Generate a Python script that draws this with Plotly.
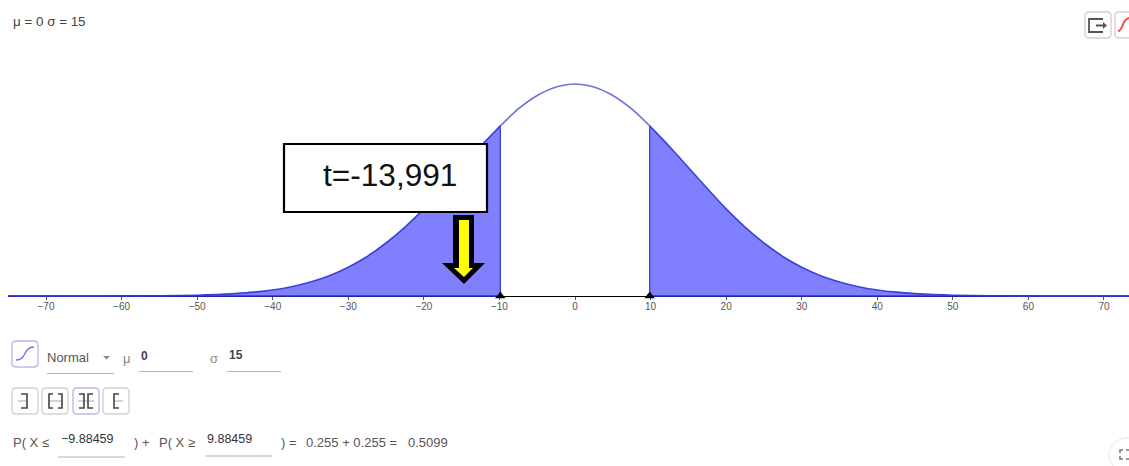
import plotly.graph_objects as go

W, H = 1129, 466

# Data
curve_x = [-75, -65, -60, -55, -50, -47.5, -45, -42.5, -40, -37.5, -35, -32.5, -30, -27.5, -25, -22.5, -20,
           -17.5, -15, -12.5, -9.88459, -7.5, -5, -2.5, 0, 2.5, 5, 7.5, 9.88459, 12.5, 15, 17.5, 20,
           22.5, 25, 27.5, 30, 32.5, 35, 37.5, 40, 42.5, 45, 47.5, 50, 55, 60, 65, 73.3]
curve_y = [0, 0, 0.00001, 0.00003, 0.00010, 0.00018, 0.00030, 0.00048, 0.00076, 0.00117, 0.00175, 0.00254, 0.00360,
           0.00496, 0.00665, 0.00864, 0.01093, 0.01349, 0.01613, 0.01876, 0.02135, 0.02347, 0.02516,
           0.02623, 0.02660, 0.02623, 0.02516, 0.02347, 0.02135, 0.01876, 0.01613, 0.01349, 0.01093,
           0.00864, 0.00665, 0.00496, 0.00360, 0.00254, 0.00175, 0.00117, 0.00076, 0.00048, 0.00030,
           0.00018, 0.00010, 0.00003, 0.00001, 0, 0]
tick_vals = [-70, -60, -50, -40, -30, -20, -10, 0, 10, 20, 30, 40, 50, 60, 70]
lower_cut = -9.88459
upper_cut = 9.88459
annotation_label = "t=-13,991"

FILL = "#8080ff"
EDGE = "#3c40dc"
MID = "#6a74dc"
GREY = "#555555"
BORDER = "#d2d2d2"
PURPLE = "#bdb8ec"

# axes: 7.557 px per unit, zero at px 575, baseline at px 296
pxu = 7.557
x_lo = (8 - 575) / pxu
x_hi = (W - 575) / pxu
k = 0.0266 / 212
y_hi = 296 * k
y_lo = -(H - 296) * k


def px(x):
    return x / W


def py(y):
    return 1 - y / H


left = [i for i, v in enumerate(curve_x) if v <= lower_cut]
mid = [i for i, v in enumerate(curve_x) if lower_cut <= v <= upper_cut]
right = [i for i, v in enumerate(curve_x) if v >= upper_cut]


def pick(seq, idx):
    return [seq[i] for i in idx]


fig = go.Figure()
for idx in (left, right):
    fig.add_trace(go.Scatter(x=pick(curve_x, idx), y=pick(curve_y, idx), mode="lines",
                             line=dict(color=EDGE, width=1.6, shape="spline", smoothing=0.6),
                             fill="tozeroy", fillcolor=FILL, hoverinfo="skip"))
fig.add_trace(go.Scatter(x=pick(curve_x, mid), y=pick(curve_y, mid), mode="lines",
                         line=dict(color=MID, width=1.6, shape="spline", smoothing=0.6), hoverinfo="skip"))
cut_height = curve_y[left[-1]]
for c in (lower_cut, upper_cut):
    fig.add_trace(go.Scatter(x=[c, c], y=[0, cut_height], mode="lines",
                             line=dict(color="#3f44e8", width=1.4), hoverinfo="skip"))
fig.add_trace(go.Scatter(x=[curve_x[0], lower_cut], y=[0, 0], mode="lines",
                         line=dict(color="#2b30e8", width=1.6), hoverinfo="skip"))
fig.add_trace(go.Scatter(x=[upper_cut, curve_x[-1]], y=[0, 0], mode="lines",
                         line=dict(color="#2b30e8", width=1.6), hoverinfo="skip"))
fig.add_trace(go.Scatter(x=[lower_cut, upper_cut], y=[0, 0], mode="markers",
                         marker=dict(symbol="triangle-up", color="black", size=9),
                         hoverinfo="skip", cliponaxis=False))

shapes = []


def path_shape(points, fill=None, line=None, width=1, close=True):
    d = "M " + " L ".join(f"{px(a):.5f},{py(b):.5f}" for a, b in points) + (" Z" if close else "")
    shapes.append(dict(type="path", xref="paper", yref="paper", path=d,
                       fillcolor=fill if fill else "rgba(0,0,0,0)",
                       line=dict(color=line if line else "rgba(0,0,0,0)", width=width if line else 0)))


def seg(x0, y0, x1, y1, color="#aaaaaa", width=1):
    shapes.append(dict(type="line", xref="paper", yref="paper", x0=px(x0), y0=py(y0), x1=px(x1), y1=py(y1),
                       line=dict(color=color, width=width)))


def round_box(x0, y0, x1, y1, color=BORDER, r=4, width=1.4):
    a, b, c, d = px(x0), py(y0), px(x1), py(y1)
    rx, ry = r / W, r / H
    p = (f"M {a+rx:.5f},{b:.5f} L {c-rx:.5f},{b:.5f} Q {c:.5f},{b:.5f} {c:.5f},{b-ry:.5f} "
         f"L {c:.5f},{d+ry:.5f} Q {c:.5f},{d:.5f} {c-rx:.5f},{d:.5f} L {a+rx:.5f},{d:.5f} "
         f"Q {a:.5f},{d:.5f} {a:.5f},{d+ry:.5f} L {a:.5f},{b-ry:.5f} Q {a:.5f},{b:.5f} {a+rx:.5f},{b:.5f} Z")
    shapes.append(dict(type="path", xref="paper", yref="paper", path=p, fillcolor="white",
                       line=dict(color=color, width=width)))


# callout box
shapes.append(dict(type="rect", xref="paper", yref="paper", x0=px(284), x1=px(487), y0=py(212), y1=py(144),
                   fillcolor="white", line=dict(color="black", width=2.2), layer="above"))
# arrow
path_shape([(453, 215), (474, 215), (474, 263), (485, 263), (464, 284), (442, 263), (453, 263)], fill="black")
path_shape([(459, 220), (469, 220), (469, 268), (473, 268), (464, 277), (454, 268), (459, 268)], fill="#ffff00")

# top-right buttons
round_box(1085, 12, 1111, 38)
path_shape([(1103, 19), (1089, 19), (1089, 32), (1103, 32)], line="#555555", width=1.8, close=False)
seg(1096, 25.5, 1105, 25.5, "#555555", 2)
path_shape([(1103, 22), (1107, 25.5), (1103, 29)], fill="#555555")
round_box(1115, 12, 1135, 38)
shapes.append(dict(type="path", xref="paper", yref="paper",
                   path=f"M {px(1118):.5f},{py(31):.5f} C {px(1123):.5f},{py(31):.5f} {px(1122):.5f},{py(19):.5f} {px(1129):.5f},{py(18):.5f}",
                   line=dict(color="#f05050", width=2)))

# distribution icon button
round_box(12, 341, 38, 367, color=PURPLE)
shapes.append(dict(type="path", xref="paper", yref="paper",
                   path=f"M {px(16):.5f},{py(360):.5f} C {px(27):.5f},{py(360):.5f} {px(23):.5f},{py(347):.5f} {px(34):.5f},{py(347):.5f}",
                   line=dict(color="#6f6fe0", width=1.4)))
# dropdown & inputs
path_shape([(103, 356), (110, 356), (106.5, 359.5)], fill="#888888")
seg(47, 373.5, 114, 373.5, "#b5b5b5")
seg(139, 371.5, 193, 371.5, "#b5b5b5")
seg(227, 371.5, 281, 371.5, "#b5b5b5")
seg(58, 457, 125, 457, "#b5b5b5")
seg(205, 456, 272, 456, "#b5b5b5")

# interval buttons
G = "#444444"
for i, (a, b) in enumerate([(12, 38), (42, 68), (73, 99), (103, 129)]):
    round_box(a, 388, b, 414, color=PURPLE if i == 2 else BORDER)
# left-tail button
seg(18, 401, 26, 401, "#aaaaaa")
path_shape([(21, 394), (27, 394), (27, 408), (21, 408)], line=G, width=1.6, close=False)
# both-ends button
seg(48, 401, 63, 401, "#aaaaaa")
path_shape([(53, 394), (49, 394), (49, 408), (53, 408)], line=G, width=1.6, close=False)
path_shape([(58, 394), (62, 394), (62, 408), (58, 408)], line=G, width=1.6, close=False)
# two-tails button
seg(78, 401, 94, 401, "#aaaaaa")
path_shape([(79, 394), (84, 394), (84, 408), (79, 408)], line=G, width=1.6, close=False)
path_shape([(93, 394), (88, 394), (88, 408), (93, 408)], line=G, width=1.6, close=False)
# right-tail button
seg(113, 401, 123, 401, "#aaaaaa")
path_shape([(119, 394), (114, 394), (114, 408), (119, 408)], line=G, width=1.6, close=False)

# fullscreen corner
shapes.append(dict(type="circle", xref="paper", yref="paper", x0=px(1109), x1=px(1145), y0=py(472), y1=py(438),
                   fillcolor="white", line=dict(color="#f0f0f0", width=1.5)))
path_shape([(1120, 453), (1120, 450), (1123, 450)], line="#777777", width=1.5, close=False)
path_shape([(1120, 456), (1120, 459), (1123, 459)], line="#777777", width=1.5, close=False)
path_shape([(1126, 450), (1129, 450)], line="#777777", width=1.5, close=False)
path_shape([(1126, 459), (1129, 459)], line="#777777", width=1.5, close=False)

anns = []


def text(x, y, s, size=13, color=GREY, anchor="left", family="Liberation Sans"):
    anns.append(dict(xref="paper", yref="paper", x=px(x), y=py(y), text=s, showarrow=False,
                     xanchor=anchor, yanchor="middle", xshift=-2 if anchor == "left" else 0,
                     font=dict(size=size, color=color, family=family)))


text(13, 22, "μ = 0 σ = 15", 13.4, "#444444")
text(390, 174.5, annotation_label, 31.6, "#111111", anchor="center")
text(47, 357.5, "Normal", 13)
text(123, 358.5, "μ", 13, "#888888")
text(141, 356, "<b>0</b>", 12, "#444444")
text(210, 358.5, "σ", 13, "#888888")
text(229, 355, "<b>15</b>", 12, "#444444")
text(13, 442.5, "P( X ≤", 13)
text(61, 439, "−9.88459", 12.5, "#333333")
text(134, 442.5, ") +", 13)
text(159, 442.5, "P( X ≥", 13)
text(207, 439, "9.88459", 12.5, "#333333")
text(281, 442.5, ") =", 13)
text(306, 442.5, "0.255 + 0.255 =", 13)
text(408, 442.5, "0.5099", 13)

fig.update_layout(
    width=W, height=H, margin=dict(l=0, r=0, t=0, b=0),
    paper_bgcolor="white", plot_bgcolor="white", showlegend=False,
    shapes=shapes, annotations=anns,
    xaxis=dict(domain=[8 / W, 1], range=[x_lo, x_hi], tickmode="array", tickvals=tick_vals,
               ticks="outside", ticklen=3, tickwidth=1, tickcolor="#555555",
               tickfont=dict(size=10, color="#555555", family="Liberation Sans"),
               ticklabelstandoff=-2,
               showgrid=False, zeroline=False, showline=True, linecolor="black", linewidth=1,
               anchor="free", position=(H - 296) / H, fixedrange=True, layer="below traces"),
    yaxis=dict(range=[y_lo, y_hi], visible=False, fixedrange=True),
)
fig.write_html("out.html", config=dict(displayModeBar=False),
               post_script="document.body.style.margin='0';document.documentElement.style.overflow='hidden';")
